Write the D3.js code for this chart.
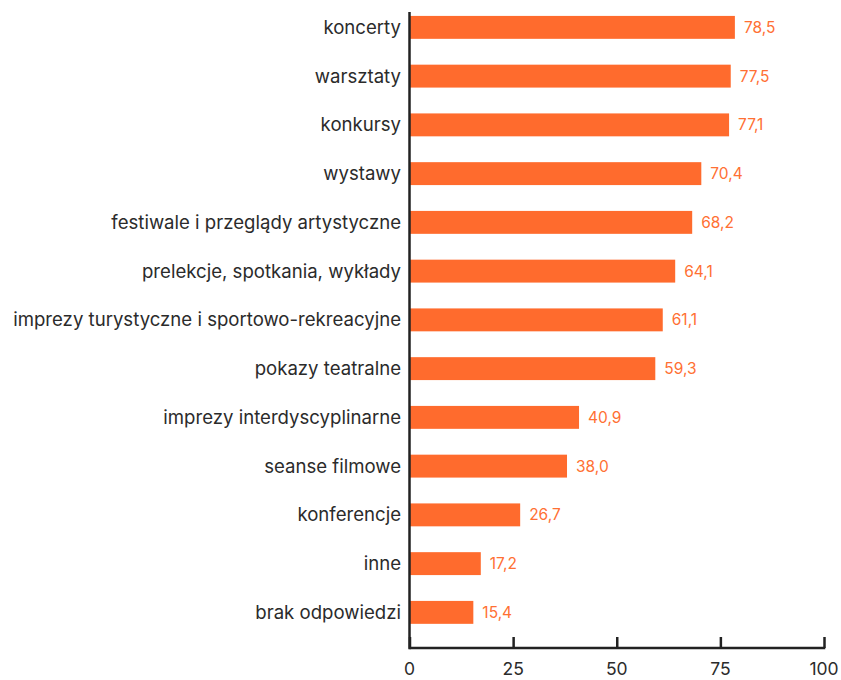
<!DOCTYPE html>
<html>
<head>
<meta charset="utf-8">
<script src="https://d3js.org/d3.v7.min.js"></script>
<style>
	body { margin: 0; background: #fff; }
	svg { display: block; }
	text { font-family: Inter, "Noto Sans", sans-serif; }
</style>
</head>
<body>
<script>
const categories = [
	"koncerty",
	"warsztaty",
	"konkursy",
	"wystawy",
	"festiwale i przeglądy artystyczne",
	"prelekcje, spotkania, wykłady",
	"imprezy turystyczne i sportowo-rekreacyjne",
	"pokazy teatralne",
	"imprezy interdyscyplinarne",
	"seanse filmowe",
	"konferencje",
	"inne",
	"brak odpowiedzi"
];
const values = [78.5, 77.5, 77.1, 70.4, 68.2, 64.1, 61.1, 59.3, 40.9, 38.0, 26.7, 17.2, 15.4];
const ticks = [0, 25, 50, 75, 100];

var width = 841,
	height = 680;

var svg = d3.select("body").append("svg").attr("width", width).attr("height", height);

var x = d3.scaleLinear().domain([0, 100]).range([409.5, 824]);

var y = d3
	.scaleBand()
	.domain(categories)
	.range([3, 636.75])
	.paddingInner(0.53)
	.paddingOuter(0.265);

var axisY = 648;

// bars
svg.append("g")
	.selectAll("rect")
	.data(values)
	.enter()
	.append("rect")
	.attr("x", x(0))
	.attr("y", (d, i) => y(categories[i]))
	.attr("width", (d) => x(d) - x(0))
	.attr("height", y.bandwidth())
	.style("fill", "#ff6b2d");

// value labels
svg.append("g")
	.selectAll("text")
	.data(values)
	.enter()
	.append("text")
	.attr("x", (d) => x(d) + 9)
	.attr("y", (d, i) => y(categories[i]) + y.bandwidth() / 2)
	.attr("dy", "0.35em")
	.style("font-size", "15.5px")
	.style("fill", "#ff7033")
	.text((d) => d.toFixed(1).replace(".", ","));

// category labels
svg.append("g")
	.selectAll("text")
	.data(categories)
	.enter()
	.append("text")
	.attr("x", 401)
	.attr("y", (d) => y(d) + y.bandwidth() / 2)
	.attr("dy", "0.35em")
	.attr("text-anchor", "end")
	.style("font-size", "18.6px")
	.style("fill", "#2b2b2b")
	.text((d) => d);

// bottom axis
var xAxis = d3.axisTop(x).tickValues(ticks).tickSize(11).tickFormat("");
var gx = svg.append("g").attr("transform", "translate(0," + axisY + ")").call(xAxis);
gx.select(".domain").remove();
gx.selectAll("line").style("stroke", "#222").style("stroke-width", 2.5);

svg.append("line")
	.attr("x1", x(0))
	.attr("x2", x(100) + 1.25)
	.attr("y1", axisY)
	.attr("y2", axisY)
	.style("stroke", "#222")
	.style("stroke-width", 2.5);

svg.append("line")
	.attr("x1", x(0))
	.attr("x2", x(0))
	.attr("y1", 12)
	.attr("y2", axisY + 1.25)
	.style("stroke", "#222")
	.style("stroke-width", 2.5);

svg.append("g")
	.selectAll("text")
	.data(ticks)
	.enter()
	.append("text")
	.attr("x", (d) => x(d))
	.attr("y", 675)
	.attr("text-anchor", "middle")
	.style("font-size", "17.5px")
	.style("fill", "#2b2b2b")
	.text((d) => d);
</script>
</body>
</html>
